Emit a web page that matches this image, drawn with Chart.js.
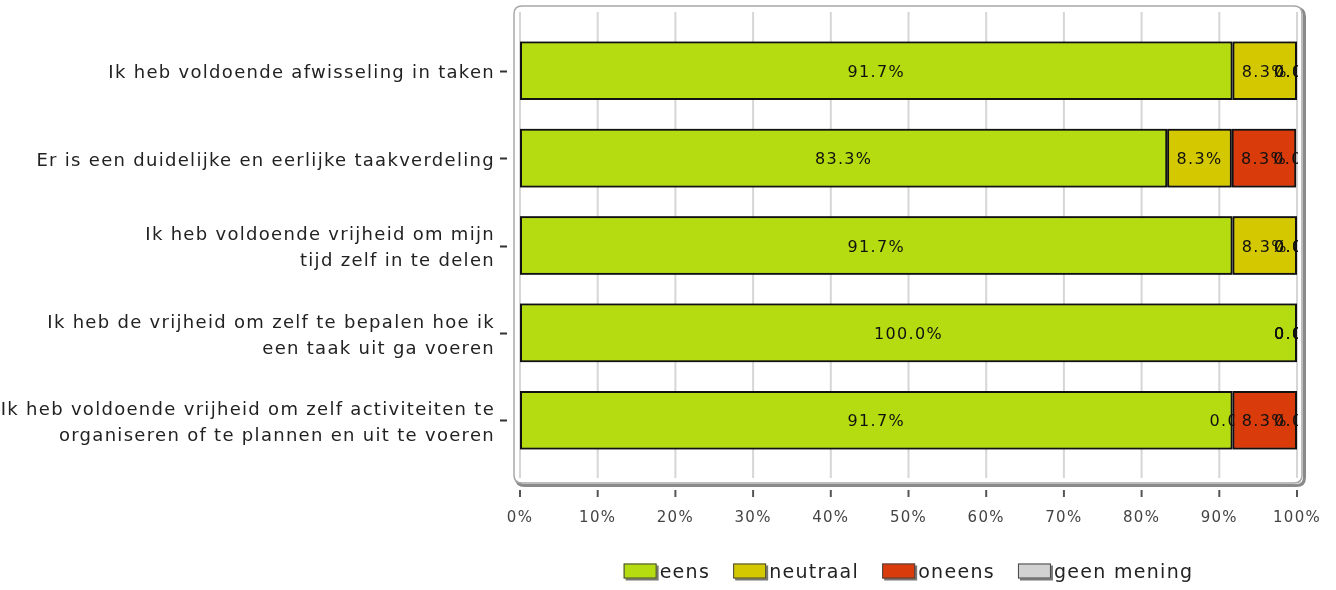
<!DOCTYPE html>
<html>
<head>
<meta charset="utf-8">
<script src="https://cdn.jsdelivr.net/npm/chart.js@4"></script>
<style>
  html, body { margin: 0; padding: 0; background: #fff; }
  canvas { display: block; }
</style>
</head>
<body>
<canvas id="bar-chart" width="1336" height="590"></canvas>
<script>
// categories (multi-line ones as arrays)
const categories = [
  'Ik heb voldoende afwisseling in taken',
  'Er is een duidelijke en eerlijke taakverdeling',
  ['Ik heb voldoende vrijheid om mijn', 'tijd zelf in te delen'],
  ['Ik heb de vrijheid om zelf te bepalen hoe ik', 'een taak uit ga voeren'],
  ['Ik heb voldoende vrijheid om zelf activiteiten te', 'organiseren of te plannen en uit te voeren']
];

const seriesNames = ['eens', 'neutraal', 'oneens', 'geen mening'];
const seriesColors = ['#b5dc10', '#d4c800', '#d93b0b', '#d2d2d2'];

// percentages per category
const eens = [91.7, 83.3, 91.7, 100.0, 91.7];
const neutraal = [8.3, 8.3, 8.3, 0.0, 0.0];
const oneens = [0.0, 8.3, 0.0, 0.0, 8.3];
const geenMening = [0.0, 0.0, 0.0, 0.0, 0.0];

const xTickValues = [0, 10, 20, 30, 40, 50, 60, 70, 80, 90, 100];

const FONT = '"DejaVu Sans", sans-serif';
const SPACING = '1.3px';

Chart.defaults.font.family = FONT;

function roundRect(ctx, x, y, w, h, r) {
  ctx.beginPath();
  ctx.moveTo(x + r, y);
  ctx.lineTo(x + w - r, y);
  ctx.quadraticCurveTo(x + w, y, x + w, y + r);
  ctx.lineTo(x + w, y + h - r);
  ctx.quadraticCurveTo(x + w, y + h, x + w - r, y + h);
  ctx.lineTo(x + r, y + h);
  ctx.quadraticCurveTo(x, y + h, x, y + h - r);
  ctx.lineTo(x, y + r);
  ctx.quadraticCurveTo(x, y, x + r, y);
  ctx.closePath();
}

function line(ctx, x1, y1, x2, y2) {
  ctx.beginPath();
  ctx.moveTo(x1, y1);
  ctx.lineTo(x2, y2);
  ctx.stroke();
}

// plot frame, grid lines and tick marks
const framePlugin = {
  id: 'frame',
  beforeUpdate(chart) { chart.ctx.letterSpacing = SPACING; },
  beforeDraw(chart) { chart.ctx.letterSpacing = SPACING; },
  beforeDatasetsDraw(chart) {
    const { ctx, chartArea: a, scales: { x, y } } = chart;
    const left = a.left - 6, right = a.right + 5, top = a.top - 21, bottom = a.bottom + 19;
    ctx.save();
    ctx.strokeStyle = '#8a8a8a';
    ctx.lineWidth = 3;
    roundRect(ctx, left + 2.5, top + 2.5, right - left, bottom - top, 8);
    ctx.stroke();
    ctx.fillStyle = '#fff';
    roundRect(ctx, left, top, right - left, bottom - top, 8);
    ctx.fill();
    ctx.strokeStyle = '#a8a8a8';
    ctx.lineWidth = 1.5;
    ctx.stroke();

    ctx.lineWidth = 2;
    x.ticks.forEach(t => {
      const px = x.getPixelForValue(t.value);
      ctx.strokeStyle = '#d6d6d6';
      line(ctx, px, top + 6, px, bottom - 5);
      ctx.strokeStyle = '#555';
      line(ctx, px, bottom + 7, px, bottom + 14);
    });
    ctx.strokeStyle = '#333';
    y.ticks.forEach((t, i) => {
      const py = Math.round(y.getPixelForTick(i)) + 0.5;
      line(ctx, a.left - 20, py, a.left - 13, py);
    });
    ctx.restore();
  }
};

// redraw bars in series order, each followed by its value labels
const valueLabelPlugin = {
  id: 'valueLabels',
  afterDatasetsDraw(chart) {
    const { ctx, chartArea: a } = chart;
    chart.data.datasets.forEach((ds, i) => {
      const meta = chart.getDatasetMeta(i);
      ctx.save();
      ctx.beginPath();
      ctx.rect(a.left - 1, a.top, a.right - a.left + 2, a.bottom - a.top);
      ctx.clip();
      meta.data.forEach(el => el.draw(ctx, a));
      ctx.font = '16px ' + FONT;
      ctx.textAlign = 'center';
      ctx.textBaseline = 'middle';
      ctx.fillStyle = '#111';
      meta.data.forEach((el, j) => {
        const v = ds.data[j];
        ctx.fillText(v.toFixed(1) + '%', (el.x + el.base) / 2, el.y + 2);
      });
      ctx.restore();
    });
  },
  afterDraw(chart) {
    const { ctx, chartArea: a } = chart;
    const boxW = 33, boxH = 15, gap = 3, space = 23;
    ctx.save();
    ctx.font = '19px ' + FONT;
    const items = chart.data.datasets.map(ds => ({ text: ds.label, color: ds.backgroundColor }));
    const widths = items.map(it => boxW + gap + ctx.measureText(it.text).width);
    const total = widths.reduce((s, w) => s + w, 0) + space * (items.length - 1);
    let xx = (a.left + a.right) / 2 - total / 2;
    const cy = a.bottom + 107;
    items.forEach((it, i) => {
      const by = cy - boxH / 2;
      ctx.fillStyle = '#777';
      ctx.fillRect(xx + 2, by + 2, boxW, boxH);
      ctx.fillStyle = it.color;
      ctx.fillRect(xx, by, boxW, boxH);
      ctx.strokeStyle = '#444';
      ctx.lineWidth = 1;
      ctx.strokeRect(xx + 0.5, by + 0.5, boxW - 1, boxH - 1);
      ctx.fillStyle = '#222';
      ctx.textAlign = 'left';
      ctx.textBaseline = 'middle';
      ctx.fillText(it.text, xx + boxW + gap, cy + 2);
      xx += widths[i] + space;
    });
    ctx.restore();
  }
};

const seriesData = [eens, neutraal, oneens, geenMening];

const barCanvas = document.getElementById('bar-chart');
new Chart(barCanvas, {
  type: 'bar',
  data: {
    labels: categories,
    datasets: seriesNames.map((name, i) => ({
      label: name,
      data: seriesData[i],
      backgroundColor: seriesColors[i],
      borderColor: '#111',
      borderWidth: 2,
      borderSkipped: false,
      barPercentage: 0.67,
      categoryPercentage: 1
    }))
  },
  options: {
    indexAxis: 'y',
    responsive: false,
    animation: false,
    devicePixelRatio: 1,
    layout: { padding: { left: 0, right: 39, top: 27, bottom: 56 } },
    scales: {
      x: {
        stacked: true,
        min: 0,
        max: 100,
        afterBuildTicks: scale => { scale.ticks = xTickValues.map(v => ({ value: v })); },
        afterFit: scale => {
          scale.height = 70;
          scale.paddingLeft = 0;
          scale.paddingRight = 0;
        },
        grid: { display: false, drawTicks: false },
        border: { display: false },
        ticks: {
          padding: 45,
          color: '#444',
          font: { size: 15 },
          maxRotation: 0,
          autoSkip: false,
          callback: v => v + '%'
        }
      },
      y: {
        stacked: true,
        afterFit: scale => {
          scale.width = 520;
          scale.paddingTop = 0;
          scale.paddingBottom = 0;
        },
        grid: { display: false, drawTicks: false },
        border: { display: false },
        ticks: {
          padding: 25,
          labelOffset: 3,
          color: '#222',
          font: { size: 18, lineHeight: 1.45 },
          autoSkip: false
        }
      }
    },
    plugins: {
      legend: { display: false },
      tooltip: { enabled: false }
    }
  },
  plugins: [framePlugin, valueLabelPlugin]
});
</script>
</body>
</html>
